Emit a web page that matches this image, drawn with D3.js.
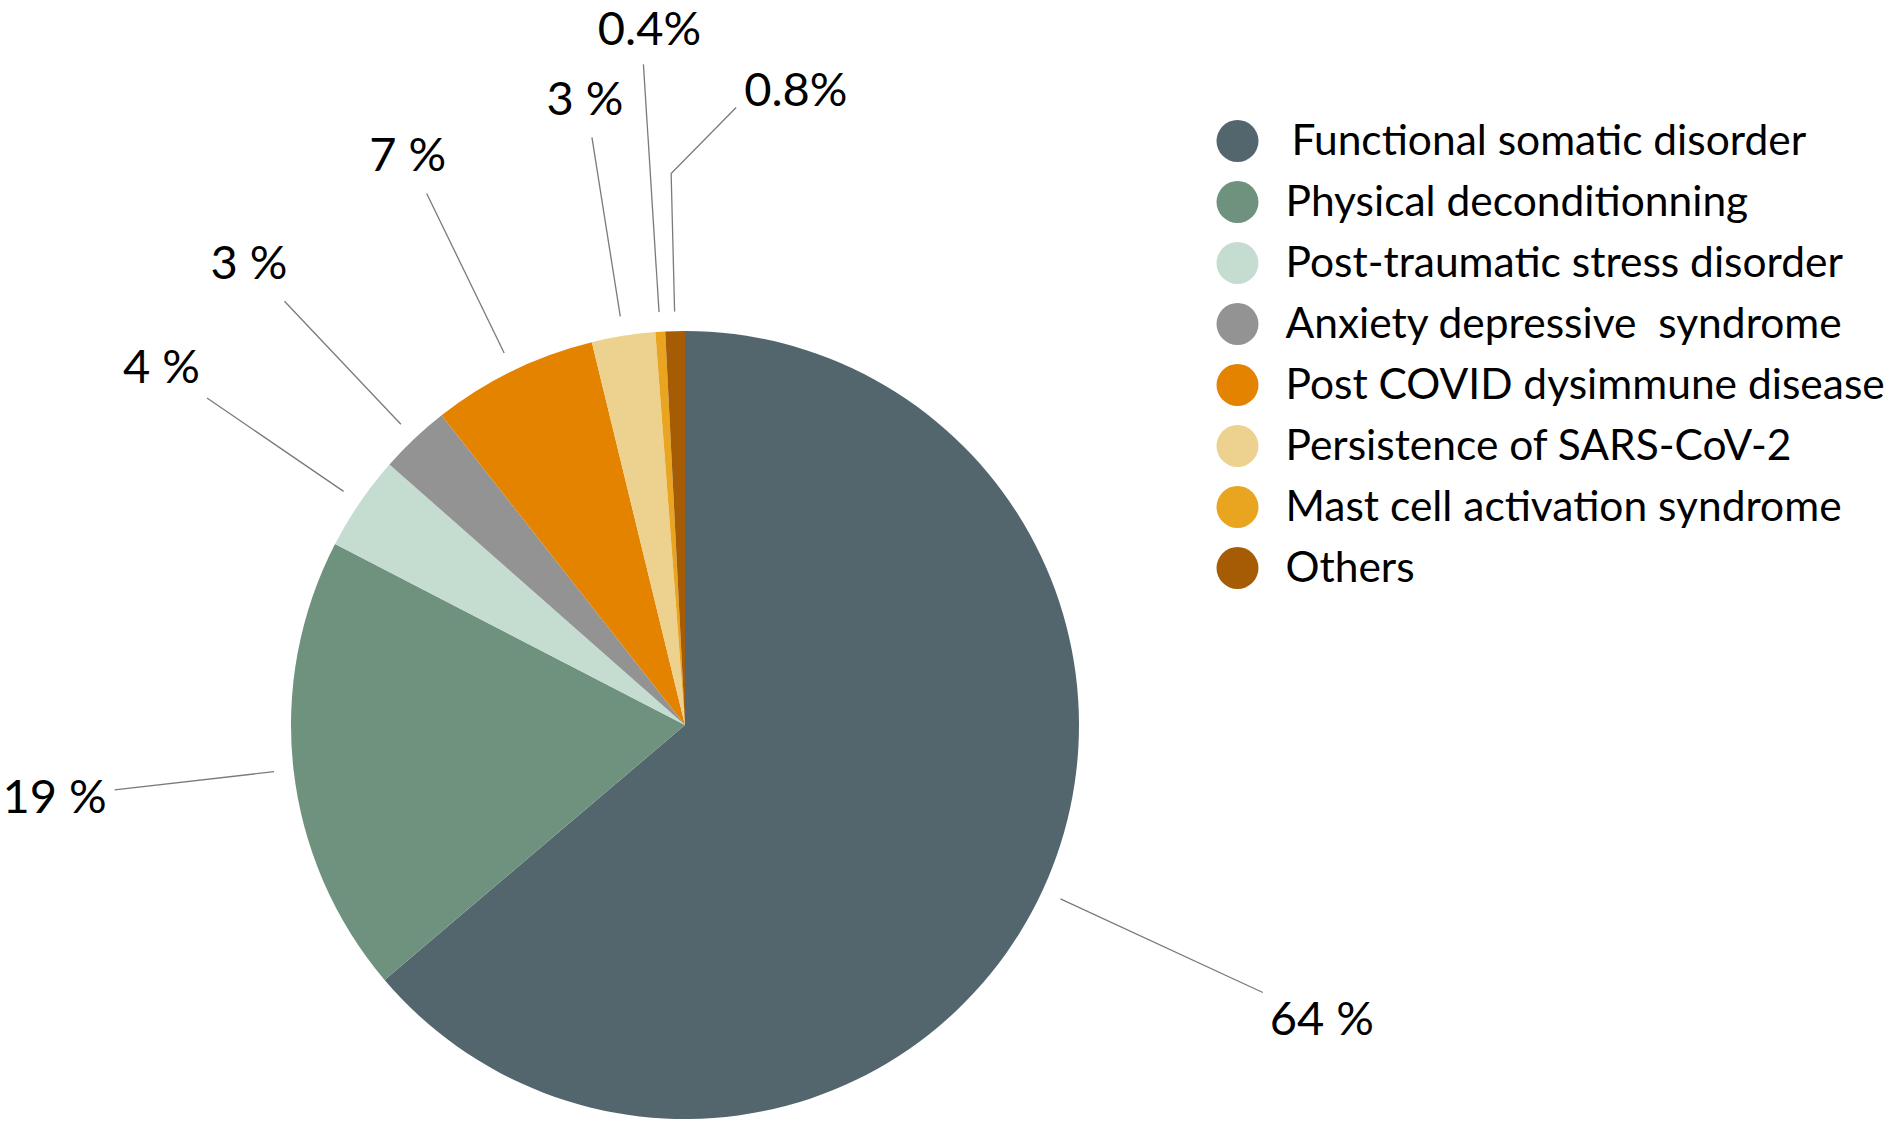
<!DOCTYPE html>
<html>
<head>
<meta charset="utf-8">
<script src="https://cdn.jsdelivr.net/npm/d3@7"></script>
<style>
  html, body { margin: 0; padding: 0; background: #ffffff; }
  svg { display: block; }
  text { font-family: Lato, "Open Sans", sans-serif; fill: #000; }
</style>
</head>
<body>
<svg id="chart" width="1902" height="1129"></svg>
<script>
// ---- data ----
const categories = [
  "Functional somatic disorder",
  "Physical deconditionning",
  "Post-traumatic stress disorder",
  "Anxiety depressive  syndrome",
  "Post COVID dysimmune disease",
  "Persistence of SARS-CoV-2",
  "Mast cell activation syndrome",
  "Others"
];
const values = [63.8, 18.8, 3.9, 2.9, 6.8, 2.6, 0.4, 0.8];
const valueLabels = ["64 %", "19 %", "4 %", "3 %", "7 %", "3 %", "0.4%", "0.8%"];
const colors = ["#53666e", "#6f927e", "#c5dcd0", "#939393", "#e38300", "#edd28f", "#e9a420", "#a65b05"];

// ---- layout ----
const W = 1902, H = 1129;
const cx = 685, cy = 725, R = 394;
const leaderInner = 1.05;
// per-label leader length (in radii), optional elbow, and text placement relative to the leader end
const labelLayout = [
  { ext: 1.616, anchor: "start",  dx: 7,   dy: 43 },
  { ext: 1.457, anchor: "end",    dx: -8,  dy: 23 },
  { ext: 1.47,  anchor: "end",    dx: -7,  dy: -15 },
  { ext: 1.48,  anchor: "end",    dx: 3,   dy: -22 },
  { ext: 1.50,  anchor: "middle", dx: -19, dy: -22 },
  { ext: 1.51,  anchor: "middle", dx: -7,  dy: -22 },
  { ext: 1.68,  anchor: "middle", dx: 6,   dy: -19 },
  { ext: 1.40,  anchor: "start",  dx: 8,   dy: -2, elbow: [65, -66] }
];

const svg = d3.select("#chart");
const g = svg.append("g").attr("transform", `translate(${cx},${cy})`);

const pie = d3.pie().sort(null).value(d => d);
const arcs = pie(values);
const arc = d3.arc().innerRadius(0).outerRadius(R);
const color = d3.scaleOrdinal().domain(categories).range(colors);

g.selectAll("path.slice")
  .data(arcs)
  .join("path")
  .attr("class", "slice")
  .attr("d", arc)
  .attr("fill", (d, i) => color(categories[i]));

function polar(angle, rad) {
  return [rad * Math.sin(angle), -rad * Math.cos(angle)];
}

const leaders = arcs.map((d, i) => {
  const mid = (d.startAngle + d.endAngle) / 2;
  const L = labelLayout[i];
  const pts = [polar(mid, R * leaderInner), polar(mid, R * L.ext)];
  if (L.elbow) {
    const last = pts[pts.length - 1];
    pts.push([last[0] + L.elbow[0], last[1] + L.elbow[1]]);
  }
  return pts;
});

g.selectAll("path.leader")
  .data(leaders)
  .join("path")
  .attr("class", "leader")
  .attr("d", d3.line())
  .attr("fill", "none")
  .attr("stroke", "#7a7a7a")
  .attr("stroke-width", 1.3);

g.selectAll("text.vlabel")
  .data(arcs)
  .join("text")
  .attr("class", "vlabel")
  .attr("x", (d, i) => leaders[i][leaders[i].length - 1][0] + labelLayout[i].dx)
  .attr("y", (d, i) => leaders[i][leaders[i].length - 1][1] + labelLayout[i].dy)
  .attr("text-anchor", (d, i) => labelLayout[i].anchor)
  .style("font-size", "47px")
  .text((d, i) => valueLabels[i]);

// ---- legend ----
const legendX = 1237.5, legendY = 141, legendStep = 61;
const legend = svg.append("g");
const rows = legend.selectAll("g.row")
  .data(categories)
  .join("g")
  .attr("class", "row")
  .attr("transform", (d, i) => `translate(${legendX},${legendY + i * legendStep})`);

rows.append("circle")
  .attr("r", 21)
  .attr("fill", d => color(d));

rows.append("text")
  .attr("x", (d, i) => i === 0 ? 54 : 48)
  .attr("y", 14)
  .style("font-size", "42.5px")
  .style("white-space", "pre")
  .text(d => d);
</script>
</body>
</html>
